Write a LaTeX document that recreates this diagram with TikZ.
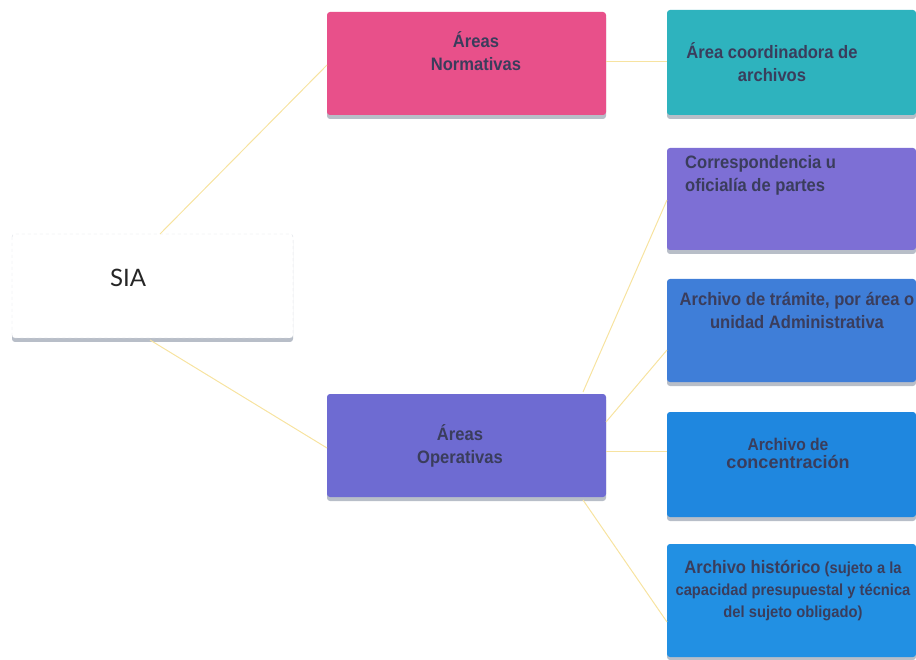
\documentclass[tikz,border=0pt]{standalone}
\usepackage{fontspec}
\setmainfont[FakeStretch=0.92]{Liberation Sans}
\newfontfamily\widefont{Liberation Sans}
\newfontfamily\siafont{Lato}
\definecolor{linecol}{HTML}{F7E3A0}
\definecolor{txt}{HTML}{3A3D5C}
\definecolor{pinkbox}{HTML}{E8508A}
\definecolor{tealbox}{HTML}{2EB3BE}
\definecolor{purpbox}{HTML}{7D6FD5}
\definecolor{operbox}{HTML}{6E6BD2}
\definecolor{trambox}{HTML}{3F7ED8}
\definecolor{concbox}{HTML}{1F87DF}
\definecolor{histbox}{HTML}{2290E3}
\definecolor{shadowcol}{HTML}{B8BEC8}
\begin{document}
\begin{tikzpicture}[x=1pt,y=-1pt,
  shadowbox/.style={fill=shadowcol, rounded corners=3pt},
  btext/.style={font=\bfseries\fontsize{18}{23}\selectfont, text=txt, align=center, anchor=center, inner sep=0pt},
  conn/.style={draw=linecol, line width=1pt}
]
\useasboundingbox (0,0) rectangle (916,660);
% SIA
\path[shadowbox] (12,237) rectangle (293,342);
\path[fill=white, draw=shadowcol!50, dashed, rounded corners=3pt] (12,234) rectangle (293,338);
\node[anchor=center, font=\siafont\fontsize{24}{28}\selectfont, text=black!85] (sia) at (128,278) {SIA};
\coordinate (siaT) at (160,234);
\coordinate (siaB) at (150,340);

% Normativas
\path[shadowbox] (327,15) rectangle (606,119);
\path[fill=pinkbox, rounded corners=3pt] (327,12) rectangle (606,115);
\node[btext] (norm) at (476,51) {Áreas\\Normativas};
\coordinate (normL) at (327,65);
\coordinate (normR) at (606,62);

% coordinadora
\path[shadowbox] (667,13) rectangle (916,119);
\path[fill=tealbox, rounded corners=3pt] (667,10) rectangle (916,115);
\node[btext] (coord) at (772,62) {Área coordinadora de\\archivos};
\coordinate (coordL) at (667,62);

% Operativas
\path[shadowbox] (327,397) rectangle (606,501);
\path[fill=operbox, rounded corners=3pt] (327,394) rectangle (606,497);
\node[btext] (oper) at (460,446) {Áreas\\Operativas};
\coordinate (operL) at (327,448);
\coordinate (operA) at (583,392);
\coordinate (operB) at (606,422);
\coordinate (operC) at (606,451);
\coordinate (operD) at (583,500);

% Correspondencia
\path[shadowbox] (667,151) rectangle (916,254);
\path[fill=purpbox, rounded corners=3pt] (667,148) rectangle (916,250);
\node[btext, align=left, anchor=west] (corr) at (685,175) {Correspondencia u\\oficialía de partes};
\coordinate (corrL) at (667,200);

% Tramite
\path[shadowbox] (667,282) rectangle (916,386);
\path[fill=trambox, rounded corners=3pt] (667,279) rectangle (916,382);
\node[btext] (tram) at (797,310) {Archivo de trámite, por área o\\unidad Administrativa};
\coordinate (tramL) at (667,350);

% Concentracion
\path[shadowbox] (667,415) rectangle (916,521);
\path[fill=concbox, rounded corners=3pt] (667,412) rectangle (916,517);
\node[btext, font=\bfseries\fontsize{17}{18}\selectfont] (conc) at (788,453) {Archivo de\\{\widefont\fontsize{18}{18}\selectfont concentración}};
\coordinate (concL) at (667,451);

% Historico
\path[shadowbox] (667,547) rectangle (916,660);
\path[fill=histbox, rounded corners=3pt] (667,544) rectangle (916,657);
\node[btext, font=\bfseries\fontsize{16}{22}\selectfont] (hist) at (793,591) {{\fontsize{18}{22}\selectfont Archivo histórico} (sujeto a la\\capacidad presupuestal y técnica\\del sujeto obligado)};
\coordinate (histL) at (667,622);

% connectors
\draw[conn] (siaT) -- (normL);
\draw[conn] (siaB) -- (operL);
\draw[conn] (normR) -- (coordL);
\draw[conn] (operA) -- (corrL);
\draw[conn] (operB) -- (tramL);
\draw[conn] (operC) -- (concL);
\draw[conn] (operD) -- (histL);
\end{tikzpicture}
\end{document}
